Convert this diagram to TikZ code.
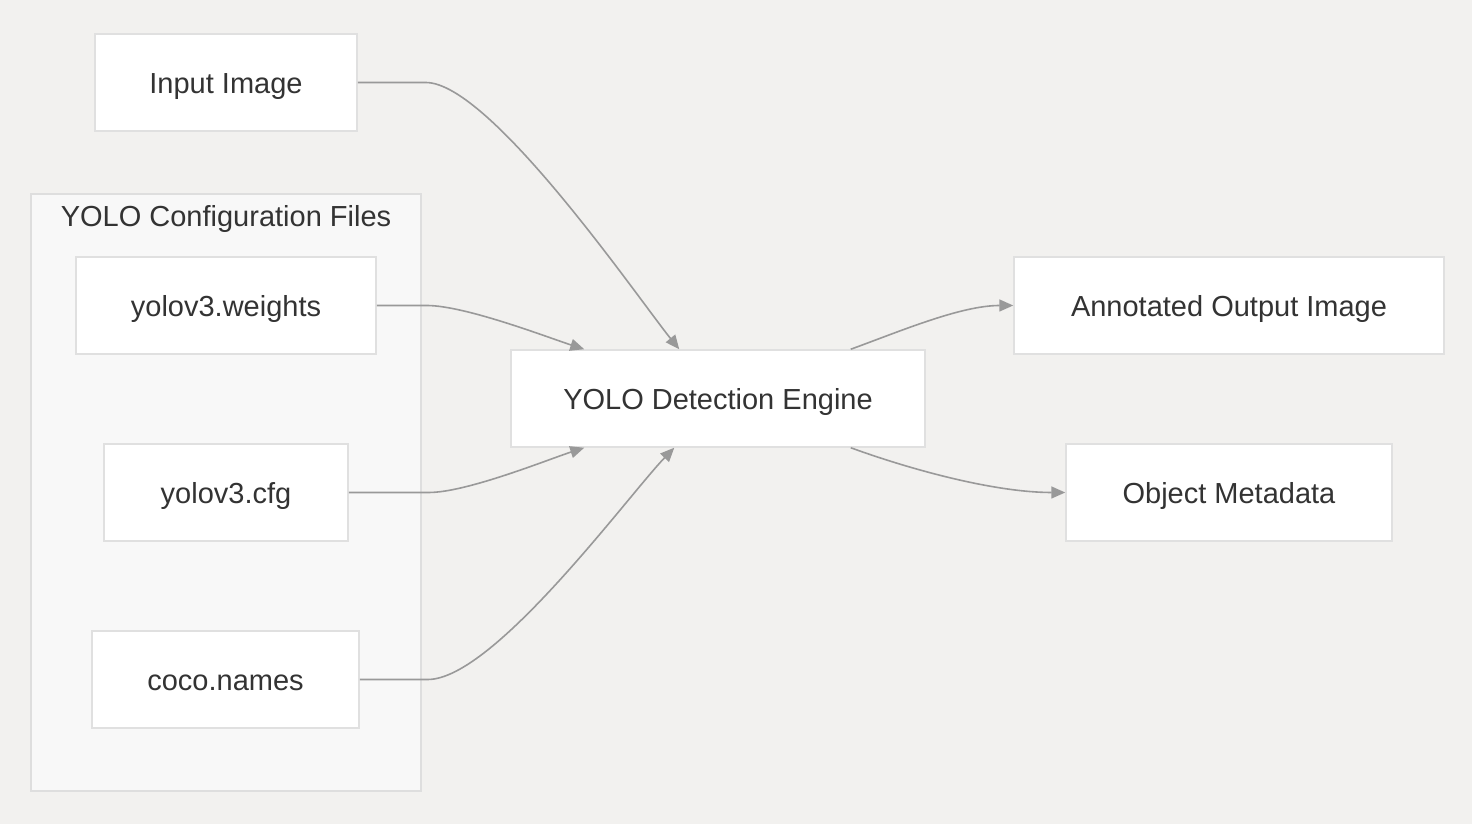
\documentclass[tikz,border=0pt]{standalone}
\usepackage{fontspec}
\setmainfont{Liberation Sans}
\usetikzlibrary{arrows.meta}
\definecolor{bgcol}{HTML}{F2F1EF}
\definecolor{clustfill}{HTML}{F8F8F8}
\definecolor{clustline}{HTML}{DEDEDE}
\definecolor{boxline}{HTML}{E0E0E0}
\definecolor{txtcol}{HTML}{333333}
\definecolor{edgecol}{HTML}{999999}
\tikzset{
    filebox/.style={draw=boxline,fill=white,line width=1.5pt,inner sep=0pt,
        minimum height=97pt,text height=26pt,text depth=4pt,text=txtcol,
        font=\fontsize{29}{34}\selectfont},
    flow/.style={draw=edgecol,line width=1.6pt,-{Triangle[length=14pt,width=12pt]}},
}
\begin{document}
\begin{tikzpicture}[x=1pt,y=1pt]
\fill[bgcol] (0,0) rectangle (1472,824);
\useasboundingbox (0,0) rectangle (1472,824);
% config files group
\draw[fill=clustfill,draw=clustline,line width=1.5pt] (31,33) rectangle (421,630);
\node[text=txtcol,text height=26pt,text depth=4pt,font=\fontsize{29}{34}\selectfont] (grp) at (226,608) {YOLO Configuration Files};
% nodes
\node[filebox,minimum width=262pt] (img) at (226,741.5) {Input Image};
\node[filebox,minimum width=300pt] (wts) at (226,518.5) {yolov3.weights};
\node[filebox,minimum width=244pt] (cfg) at (226,331.5) {yolov3.cfg};
\node[filebox,minimum width=267pt] (coco) at (225.5,144.5) {coco.names};
\node[filebox,minimum width=414pt] (eng) at (718,425.5) {YOLO Detection Engine};
\node[filebox,minimum width=430pt] (ann) at (1229,518.5) {Annotated Output Image};
\node[filebox,minimum width=326pt] (meta) at (1229,331.5) {Object Metadata};
% connectors
\draw[flow] (img.east) -- ++(68,0) to[out=0,in=129,looseness=0.45] ([xshift=169pt]eng.north west);
\draw[flow] (wts.east) -- ++(50,0) to[out=0,in=162,looseness=0.6] ([xshift=74pt]eng.north west);
\draw[flow] (cfg.east) -- ++(80,0) to[out=0,in=198,looseness=0.6] ([xshift=74pt]eng.south west);
\draw[flow] (coco.east) -- ++(68,0) to[out=0,in=226,looseness=0.5] ([xshift=164pt]eng.south west);
\draw[flow] ([xshift=-75pt]eng.north east) to[out=20,in=180,looseness=0.8] (ann.west);
\draw[flow] ([xshift=-75pt]eng.south east) to[out=-20,in=180,looseness=0.8] (meta.west);
\end{tikzpicture}
\end{document}
